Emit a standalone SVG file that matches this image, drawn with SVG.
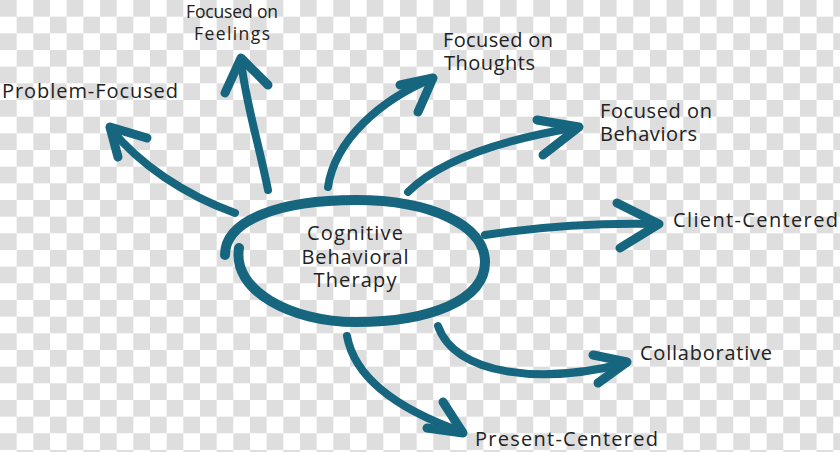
<svg xmlns="http://www.w3.org/2000/svg" width="840" height="452" viewBox="0 0 840 452">
<defs>
<pattern id="checker" x="0" y="0" width="33.33" height="33.33" patternUnits="userSpaceOnUse">
<rect width="33.33" height="33.33" fill="#ffffff"/>
<rect x="0" y="0" width="16.67" height="16.67" fill="#dedede"/>
<rect x="16.67" y="16.67" width="16.67" height="16.67" fill="#dedede"/>
</pattern>
<style>
.lbl{font-family:"Open Sans","Liberation Sans",sans-serif;font-size:20px;fill:#222222;}
.sm{font-size:17.5px;}
.shaft{fill:none;stroke:#16667f;stroke-width:8;stroke-linecap:round;stroke-linejoin:round;}
.head{fill:none;stroke:#16667f;stroke-width:9;stroke-linecap:round;stroke-linejoin:round;}
.ring{fill:none;stroke:#16667f;stroke-width:10;stroke-linecap:round;}
</style>
</defs>
<rect width="840" height="452" fill="url(#checker)"/>

<g id="center">
<path class="ring" d="M239,248 C232,290 290,322 356,322 C430,322 485,300 485,262 C485,225 430,200 356,200 C280,200 225,220 225,255"/>
<text class="lbl" x="355" y="240" text-anchor="middle" textLength="96">Cognitive</text>
<text class="lbl" x="355" y="264" text-anchor="middle" textLength="107">Behavioral</text>
<text class="lbl" x="355" y="287" text-anchor="middle" textLength="83">Therapy</text>
</g>

<g id="connectors">
<path class="shaft" d="M235,213 C185,195 140,165 110,128"/>
<path class="head" d="M147,138 L110,127 L118,157"/>
<path class="shaft" d="M268,190 C258,140 245,100 241,60"/>
<path class="head" d="M225,93 L241,58 L268,85"/>
<path class="shaft" d="M328,187 C335,140 380,100 433,78"/>
<path class="head" d="M400,85 L433,78 L418,112"/>
<path class="shaft" d="M408,192 C440,160 500,140 578,127"/>
<path class="head" d="M537,120 L579,127 L543,155"/>
<path class="shaft" d="M485,235 Q570,222 658,224"/>
<path class="head" d="M617,203 L659,224 L620,248"/>
<path class="shaft" d="M438,326 C455,375 540,385 626,363"/>
<path class="head" d="M593,355 L627,362 L598,383"/>
<path class="shaft" d="M347,336 C355,380 400,410 462,432"/>
<path class="head" d="M443,402 L463,433 L427,428"/>
</g>

<g id="node-problem"><text class="lbl" x="2" y="98" textLength="176">Problem-Focused</text></g>
<g id="node-feelings">
<text class="lbl sm" x="232" y="18" text-anchor="middle" textLength="92">Focused on</text>
<text class="lbl sm" x="232" y="40" text-anchor="middle" textLength="76">Feelings</text>
</g>
<g id="node-thoughts">
<text class="lbl" x="443" y="47" textLength="110">Focused on</text>
<text class="lbl" x="444" y="70" textLength="91">Thoughts</text>
</g>
<g id="node-behaviors">
<text class="lbl" x="600" y="118" textLength="112">Focused on</text>
<text class="lbl" x="600" y="141" textLength="97">Behaviors</text>
</g>
<g id="node-client"><text class="lbl" x="673" y="227" textLength="165">Client-Centered</text></g>
<g id="node-collab"><text class="lbl" x="640" y="360" textLength="132">Collaborative</text></g>
<g id="node-present"><text class="lbl" x="475" y="446" textLength="183">Present-Centered</text></g>
</svg>
